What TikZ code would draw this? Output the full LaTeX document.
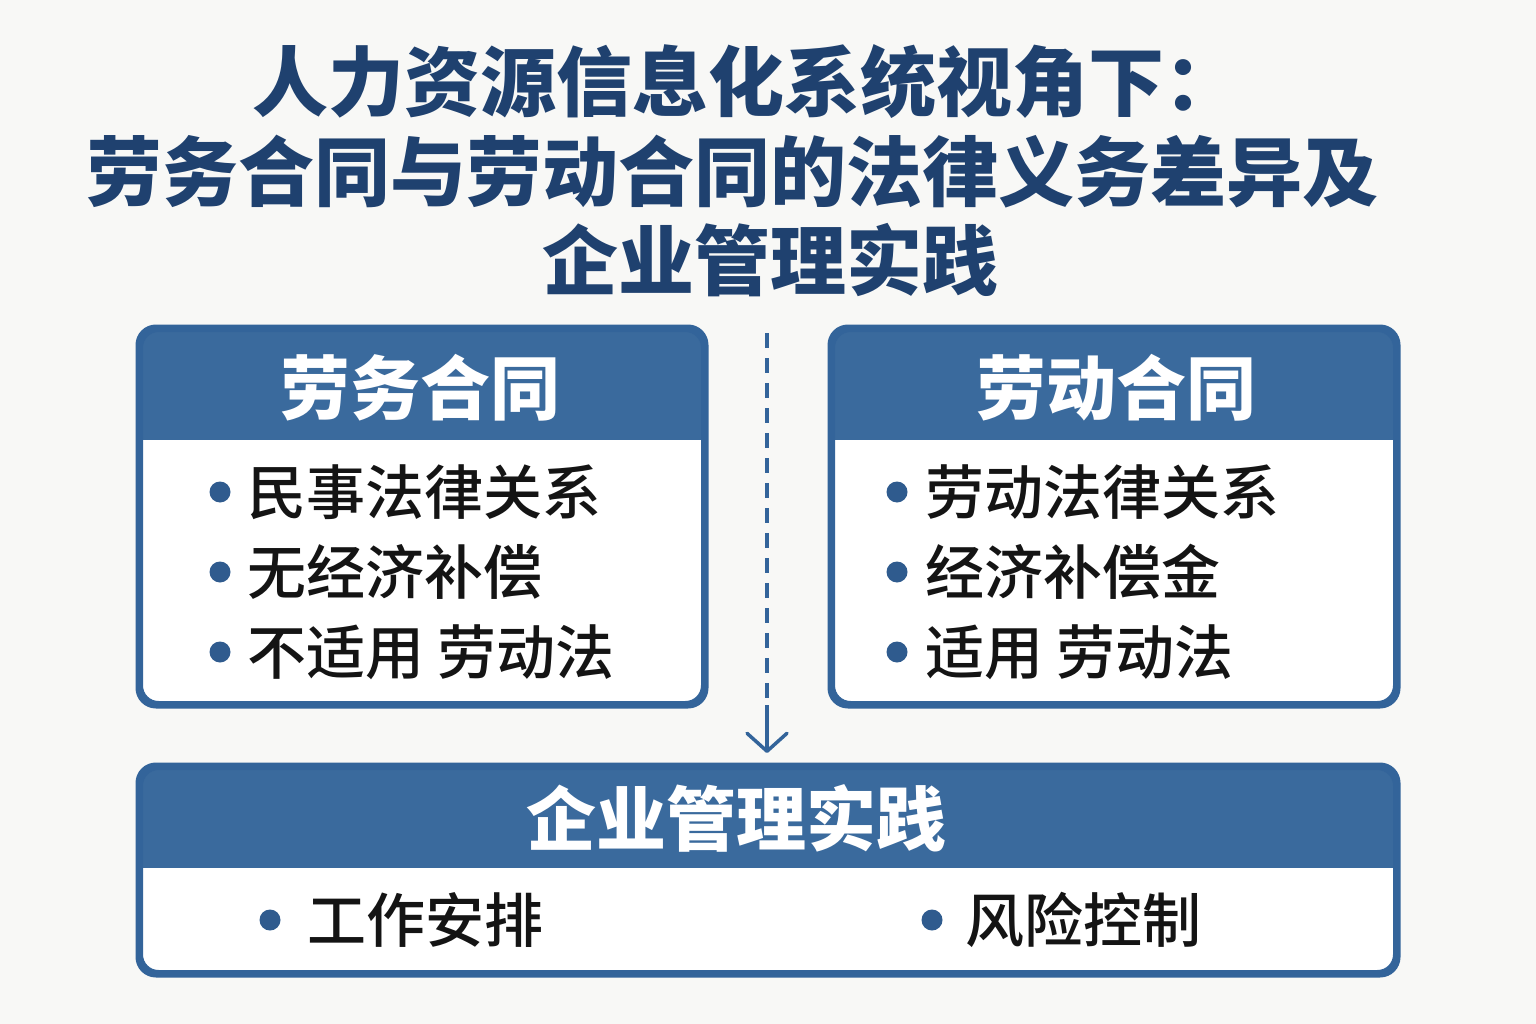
\documentclass[tikz,border=0pt]{standalone}
\usepackage{fontspec}
\newfontfamily\cjk{Noto Sans CJK SC}
\newfontfamily\cjkm{Noto Sans CJK SC Medium}
\usetikzlibrary{arrows.meta}
\definecolor{bgc}{HTML}{F8F8F6}
\definecolor{hdr}{HTML}{3A6A9D}
\definecolor{bord}{HTML}{33649A}
\definecolor{navy}{HTML}{1F416F}
\definecolor{dotc}{HTML}{2F5B8E}
\definecolor{txt}{HTML}{141414}
\begin{document}
\begin{tikzpicture}[x=1pt,y=-1pt,
  box/.style={draw=bord, line width=5pt, fill=white, rounded corners=18pt, inner sep=0pt},
  titletxt/.style={font=\cjk\bfseries\fontsize{76pt}{80pt}\selectfont, text=navy, inner sep=0pt},
  headtxt/.style={font=\cjk\bfseries\fontsize{70pt}{74pt}\selectfont, text=white, inner sep=0pt},
  itemtxt/.style={font=\cjkm\fontsize{59pt}{62pt}\selectfont, text=txt, inner sep=0pt, anchor=west},
  dot/.style={circle, fill=dotc, minimum size=21pt, inner sep=0pt},
  conn/.style={draw=bord, line width=3.5pt}
]
\useasboundingbox (0,0) rectangle (1536,1024);
\fill[bgc] (0,0) rectangle (1536,1024);

% title
\node[titletxt] (t1) at (746,82) {人力资源信息化系统视角下：};
\node[titletxt] (t2) at (732,172) {劳务合同与劳动合同的法律义务差异及};
\node[titletxt] (t3) at (770,260) {企业管理实践};

% left box
\node[box, minimum width=563pt, minimum height=374pt,
  path picture={\fill[hdr, sharp corners] (path picture bounding box.north west) rectangle ([yshift=-110pt]path picture bounding box.north east);}]
  (L) at (422,516.5) {};
\draw[bord, line width=5pt, rounded corners=18pt] (L.north west) rectangle (L.south east);
\node[headtxt] (Lh) at (420,388) {劳务合同};
\node[dot] (Ld1) at (220,492) {};
\node[dot] (Ld2) at (220,572) {};
\node[dot] (Ld3) at (220,652) {};
\node[itemtxt] (Li1) at (247,492) {民事法律关系};
\node[itemtxt] (Li2) at (247,572) {无经济补偿};
\node[itemtxt] (Li3) at (247,652) {不适用 劳动法};

% right box
\node[box, minimum width=563pt, minimum height=374pt,
  path picture={\fill[hdr, sharp corners] (path picture bounding box.north west) rectangle ([yshift=-110pt]path picture bounding box.north east);}]
  (R) at (1114,516.5) {};
\draw[bord, line width=5pt, rounded corners=18pt] (R.north west) rectangle (R.south east);
\node[headtxt] (Rh) at (1116,388) {劳动合同};
\node[dot] (Rd1) at (897,492) {};
\node[dot] (Rd2) at (897,572) {};
\node[dot] (Rd3) at (897,652) {};
\node[itemtxt] (Ri1) at (925,492) {劳动法律关系};
\node[itemtxt] (Ri2) at (925,572) {经济补偿金};
\node[itemtxt] (Ri3) at (925,652) {适用 劳动法};

% bottom box
\node[box, minimum width=1255pt, minimum height=205pt,
  path picture={\fill[hdr, sharp corners] (path picture bounding box.north west) rectangle ([yshift=-100pt]path picture bounding box.north east);}]
  (B) at (768,870) {};
\draw[bord, line width=5pt, rounded corners=18pt] (B.north west) rectangle (B.south east);
\node[headtxt] (Bh) at (736,818) {企业管理实践};
\node[dot] (Bd1) at (270,920) {};
\node[dot] (Bd2) at (932,920) {};
\node[itemtxt] (Bi1) at (307,920) {工作安排};
\node[itemtxt] (Bi2) at (965,920) {风险控制};

% connector
\coordinate (ds) at (767,333);
\coordinate (dm) at (767,705);
\coordinate (de) at (767,753);
\draw[conn, dash pattern=on 15pt off 10pt] (ds) -- (dm);
\draw[conn, -{Straight Barb[length=18pt,width=40pt,line width=3.5pt, line cap=round, line join=round]}] (dm) -- (de);
\end{tikzpicture}
\end{document}
